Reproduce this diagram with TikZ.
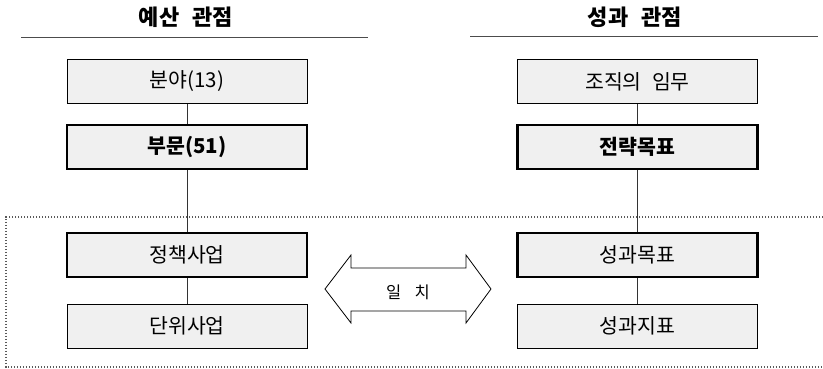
\documentclass[tikz,border=0pt]{standalone}
\usepackage{fontspec}
\setmainfont{Noto Sans CJK KR}
\usepackage{tikz}

\begin{document}
\begin{tikzpicture}[x=1pt,y=-1pt,
        box/.style={draw=black,line width=0.8pt,fill=black!6,minimum width=240pt,minimum height=44pt,inner sep=0pt,font=\fontsize{20.5}{22}\selectfont},
        thickbox/.style={box,line width=2.8pt},
        title/.style={font=\fontsize{22}{24}\selectfont\bfseries},
        link/.style={draw=black!80,line width=0.8pt}]
        \useasboundingbox (0,0) rectangle (823,369);
        \draw[black!65,line width=1.2pt,dash pattern=on 1.3pt off 1.7pt] (823,217) -- (6,217) -- (6,367) -- (823,367);
        \node[title] (budget) at (186,17) {예산\hspace{0.6em}관점};
        \node[title] (perform) at (635,17) {성과\hspace{0.6em}관점};
        \draw[black!70,line width=1pt] (21,38) -- (368,38);
        \draw[black!70,line width=1pt] (470,37) -- (818,37);
        \node[box] (bunya) at (187,81.5) {분야(13)};
        \node[thickbox] (bumun) at (187,147) {\bfseries 부문(51)};
        \node[thickbox] (jeongchaek) at (187,255) {정책사업};
        \node[box] (danwi) at (187,326) {단위사업};
        \node[box] (imu) at (637.5,81.5) {조직의\hspace{0.5em}임무};
        \node[thickbox] (jeollyak) at (637.5,147) {\bfseries 전략목표};
        \node[thickbox] (mokpyo) at (637.5,255) {성과목표};
        \node[box] (jipyo) at (637.5,326) {성과지표};
        \draw[link] (bunya) -- (bumun);
        \draw[link] (bumun) -- (jeongchaek);
        \draw[link] (jeongchaek) -- (danwi);
        \draw[link] (imu) -- (jeollyak);
        \draw[link] (jeollyak) -- (mokpyo);
        \draw[link] (mokpyo) -- (jipyo);
        \draw[black,line width=0.8pt,fill=white] (325,289) -- (351,255) -- (351,268) -- (466,268) -- (466,255) -- (491,289) -- (466,323) -- (466,311) -- (351,311) -- (351,323) -- cycle;
        \node[font=\fontsize{16.5}{18}\selectfont] (match) at (408,292) {일\hspace{0.8em}치};
\end{tikzpicture}
\end{document}
